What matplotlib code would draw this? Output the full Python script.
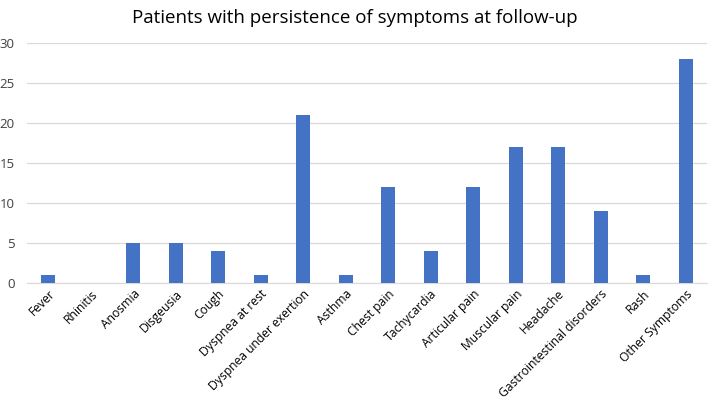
import matplotlib
matplotlib.use("Agg")
import matplotlib.pyplot as plt

symptoms = ["Fever", "Rhinitis", "Anosmia", "Disgeusia", "Cough", "Dyspnea at rest",
            "Dyspnea under exertion", "Asthma", "Chest pain", "Tachycardia",
            "Articular pain", "Muscular pain", "Headache", "Gastrointestinal disorders",
            "Rash", "Other Symptoms"]
patients = [1, 0, 5, 5, 4, 1, 21, 1, 12, 4, 12, 17, 17, 9, 1, 28]
yticks = [0, 5, 10, 15, 20, 25, 30]

plt.rcParams['font.family'] = ['Open Sans', 'DejaVu Sans']

fig = plt.figure(figsize=(7.09, 4.01), dpi=100)
ax = fig.add_axes([0.038, 0.294, 0.959, 0.599])

x = list(range(len(symptoms)))
ax.bar(x, patients, width=0.33, color="#4472C4", zorder=3)

ax.set_xlim(-0.5, len(symptoms) - 0.5)
ax.set_ylim(0, 30)
ax.set_yticks(yticks)
ax.set_yticklabels([str(t) for t in yticks], fontsize=9.5, color="#404040")
ax.yaxis.grid(True, color="#D9D9D9", linewidth=0.9, zorder=0)
ax.set_xticks(x)
ax.set_xticklabels(symptoms, rotation=45, ha="right", rotation_mode="anchor",
                   fontsize=8.7, color="#000000")
ax.tick_params(axis="y", length=0, pad=9)
ax.tick_params(axis="x", length=0, pad=3)
for s in ["top", "right", "left"]:
    ax.spines[s].set_visible(False)
ax.spines["bottom"].set_color("#D9D9D9")

fig.text(0.5, 0.955, "Patients with persistence of symptoms at follow-up",
         ha="center", va="center", fontsize=13.5, color="#000000")

fig.savefig("out.png", dpi=100)
